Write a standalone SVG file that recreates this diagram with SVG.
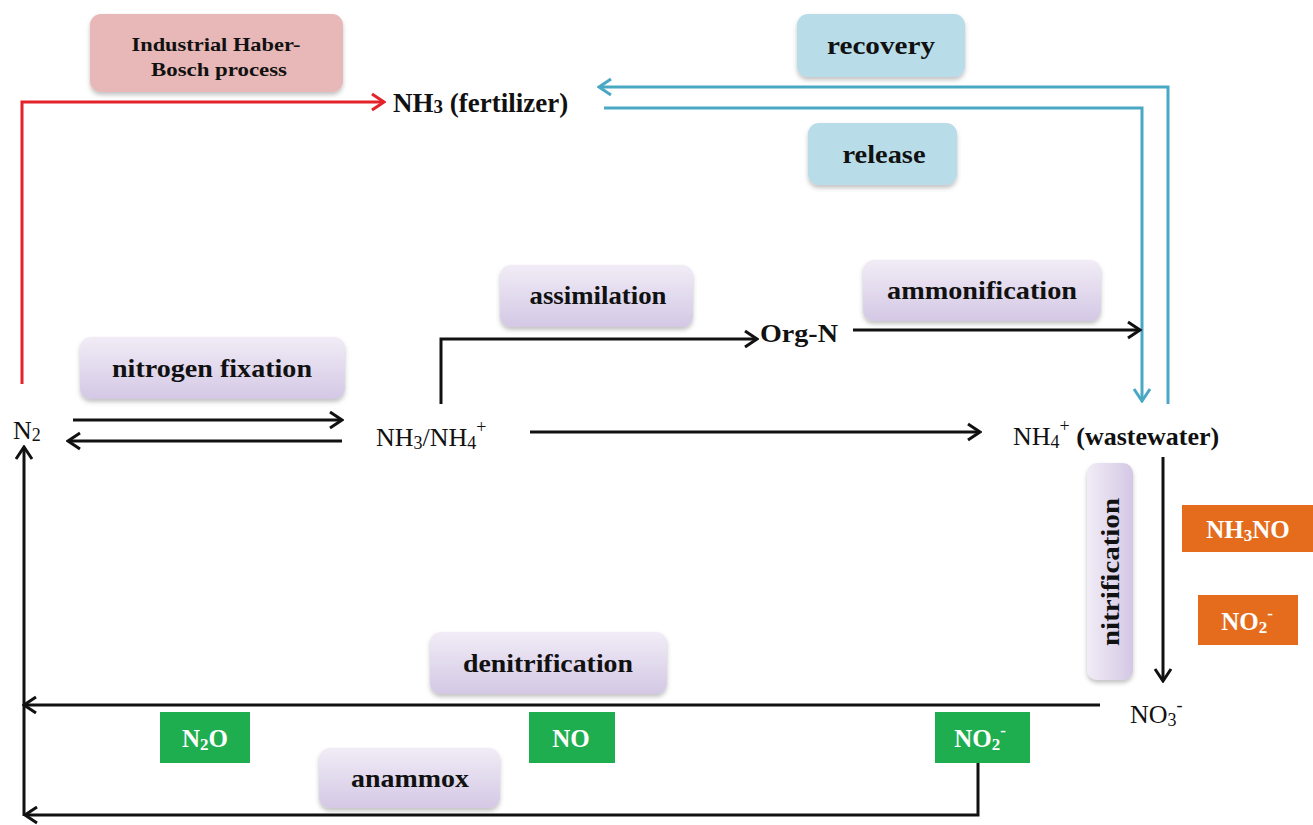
<svg xmlns="http://www.w3.org/2000/svg" width="1313" height="825" viewBox="0 0 1313 825">
<style>
.t{font-family:"Liberation Serif","Times New Roman",serif;font-weight:bold;fill:#111;}
.n{font-weight:normal;}
.lbl{font-size:25px;text-anchor:middle;}
.w{fill:#fff;font-size:25px;text-anchor:middle;}
.ln{fill:none;stroke-width:3;stroke-linejoin:miter;}
.k{stroke:#111;}
.r{stroke:#e3222a;}
.b{stroke:#4aa8c4;}
.pu{fill:url(#gPu);filter:url(#sh);}
.bl{fill:#b8dde8;filter:url(#sh);}
.pk{fill:#e7b8b7;filter:url(#sh);}
.or{fill:#e46c1c;}
.gr{fill:#1fae4f;}
</style>
<defs>
<linearGradient id="gPu" x1="0" y1="0" x2="0" y2="1">
<stop offset="0" stop-color="#f1ecf6"/>
<stop offset="1" stop-color="#d4c8e5"/>
</linearGradient>
<linearGradient id="gPuH" x1="0" y1="0" x2="1" y2="0">
<stop offset="0" stop-color="#f1ecf6"/>
<stop offset="1" stop-color="#d4c8e5"/>
</linearGradient>
<filter id="sh" x="-10%" y="-10%" width="120%" height="140%">
<feDropShadow dx="0" dy="3" stdDeviation="2" flood-color="#555" flood-opacity="0.35"/>
</filter>
<marker id="mk" viewBox="0 0 16 20" refX="14" refY="10" markerWidth="16" markerHeight="20" markerUnits="userSpaceOnUse" orient="auto">
<path d="M2,2 L14,10 L2,18" fill="none" stroke="#111" stroke-width="3"/>
</marker>
<marker id="mr" viewBox="0 0 16 20" refX="14" refY="10" markerWidth="16" markerHeight="20" markerUnits="userSpaceOnUse" orient="auto">
<path d="M2,2 L14,10 L2,18" fill="none" stroke="#e3222a" stroke-width="3"/>
</marker>
<marker id="mb" viewBox="0 0 16 20" refX="14" refY="10" markerWidth="16" markerHeight="20" markerUnits="userSpaceOnUse" orient="auto">
<path d="M2,2 L14,10 L2,18" fill="none" stroke="#4aa8c4" stroke-width="3"/>
</marker>
</defs>
<rect width="1313" height="825" fill="#fff"/>

<g id="connectors">
<path class="ln r" d="M22,384 V102 H384" marker-end="url(#mr)"/>
<path class="ln b" d="M1168,404 V87 H599" marker-end="url(#mb)"/>
<path class="ln b" d="M604,108 H1142 V401" marker-end="url(#mb)"/>
<path class="ln k" d="M73,420 H342" marker-end="url(#mk)"/>
<path class="ln k" d="M342,441 H68" marker-end="url(#mk)"/>
<path class="ln k" d="M441,404 V339 H757" marker-end="url(#mk)"/>
<path class="ln k" d="M853,330 H1140" marker-end="url(#mk)"/>
<path class="ln k" d="M530,432 H980" marker-end="url(#mk)"/>
<path class="ln k" d="M1163,457 V681" marker-end="url(#mk)"/>
<path class="ln k" d="M1100,705 H24" marker-end="url(#mk)"/>
<path class="ln k" d="M978,763 V815 H25" marker-end="url(#mk)"/>
<path class="ln k" d="M24,816 V447" marker-end="url(#mk)"/>
</g>

<g id="haber">
<rect class="pk" x="90" y="14" width="253" height="78" rx="11"/>
<text class="t" x="216" y="51" font-size="19" text-anchor="middle" textLength="169" lengthAdjust="spacingAndGlyphs">Industrial Haber-</text>
<text class="t" x="219" y="76" font-size="19" text-anchor="middle" textLength="136" lengthAdjust="spacingAndGlyphs">Bosch process</text>
</g>

<g id="nh3-fertilizer">
<text class="t" x="393" y="112" font-size="27">NH<tspan font-size="19" dy="1">3</tspan><tspan dy="-1"> (fertilizer)</tspan></text>
</g>

<g id="recovery">
<rect class="bl" x="797" y="14" width="168" height="63" rx="11"/>
<text class="t lbl" x="881" y="54" textLength="108" lengthAdjust="spacingAndGlyphs">recovery</text>
</g>

<g id="release">
<rect class="bl" x="808" y="123" width="149" height="62" rx="11"/>
<text class="t lbl" x="884" y="163" textLength="83" lengthAdjust="spacingAndGlyphs">release</text>
</g>

<g id="assimilation">
<rect class="pu" x="500" y="265" width="193" height="62" rx="11"/>
<text class="t lbl" x="598" y="304" textLength="137" lengthAdjust="spacingAndGlyphs">assimilation</text>
</g>

<g id="ammonification">
<rect class="pu" x="863" y="260" width="238" height="61" rx="11"/>
<text class="t lbl" x="982" y="299" textLength="190" lengthAdjust="spacingAndGlyphs">ammonification</text>
</g>

<g id="nitrogen-fixation">
<rect class="pu" x="80" y="337" width="265" height="62" rx="11"/>
<text class="t lbl" x="212" y="377" textLength="200" lengthAdjust="spacingAndGlyphs">nitrogen fixation</text>
</g>

<g id="n2">
<text class="t n" x="13" y="439" font-size="26">N<tspan font-size="18" dy="2">2</tspan></text>
</g>

<g id="nh3-nh4">
<text class="t n" x="376" y="446" font-size="26">NH<tspan font-size="18" dy="3">3</tspan><tspan dy="-3">/NH</tspan><tspan font-size="18" dy="3">4</tspan><tspan font-size="18" dy="-16">+</tspan></text>
</g>

<g id="org-n">
<text class="t" x="760" y="342" font-size="26" textLength="78" lengthAdjust="spacingAndGlyphs">Org-N</text>
</g>

<g id="nh4-wastewater">
<text class="t n" x="1013" y="445" font-size="26">NH<tspan font-size="18" dy="3">4</tspan><tspan font-size="18" dy="-16">+</tspan><tspan dy="13" font-weight="bold"> (wastewater)</tspan></text>
</g>

<g id="nitrification">
<rect x="1087" y="463" width="46" height="217" rx="10" fill="url(#gPuH)" filter="url(#sh)"/>
<text class="t lbl" transform="translate(1119,572) rotate(-90)" x="0" y="0" textLength="148" lengthAdjust="spacingAndGlyphs">nitrification</text>
</g>

<g id="nh3no">
<rect class="or" x="1182" y="505" width="131" height="47"/>
<text class="t w" x="1248" y="538">NH<tspan font-size="17" dy="3">3</tspan><tspan dy="-3">NO</tspan></text>
</g>

<g id="no2-orange">
<rect class="or" x="1198" y="595" width="100" height="50"/>
<text class="t w" x="1247" y="630">NO<tspan font-size="17" dy="3">2</tspan><tspan font-size="17" dy="-14">-</tspan></text>
</g>

<g id="no3">
<text class="t n" x="1130" y="723" font-size="26">NO<tspan font-size="18" dy="3">3</tspan><tspan font-size="18" dy="-15">-</tspan></text>
</g>

<g id="denitrification">
<rect class="pu" x="430" y="632" width="237" height="62" rx="11"/>
<text class="t lbl" x="548" y="672" textLength="170" lengthAdjust="spacingAndGlyphs">denitrification</text>
</g>

<g id="n2o">
<rect class="gr" x="160" y="712" width="90" height="51"/>
<text class="t w" x="205" y="747">N<tspan font-size="17" dy="3">2</tspan><tspan dy="-3">O</tspan></text>
</g>

<g id="no">
<rect class="gr" x="529" y="712" width="86" height="51"/>
<text class="t w" x="571" y="747">NO</text>
</g>

<g id="no2-green">
<rect class="gr" x="935" y="712" width="95" height="51"/>
<text class="t w" x="980" y="747">NO<tspan font-size="17" dy="3">2</tspan><tspan font-size="17" dy="-14">-</tspan></text>
</g>

<g id="anammox">
<rect class="pu" x="319" y="748" width="181" height="60" rx="11"/>
<text class="t lbl" x="410" y="787" textLength="118" lengthAdjust="spacingAndGlyphs">anammox</text>
</g>
</svg>
